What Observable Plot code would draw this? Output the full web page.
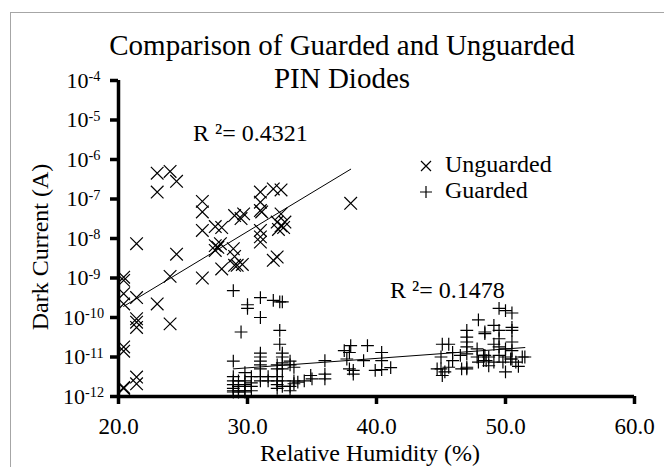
<!DOCTYPE html>
<html><head><meta charset="utf-8">
<script src="https://cdn.jsdelivr.net/npm/d3@7"></script>
<script src="https://cdn.jsdelivr.net/npm/@observablehq/plot@0.6"></script>
<style>
body{margin:0;background:#fff;font-family:"Liberation Serif","Times New Roman",serif;color:#000;}
#wrap{position:relative;width:664px;height:467px;overflow:hidden;background:#fff;}
.border{position:absolute;left:10px;top:12px;width:800px;height:600px;border:1.5px solid #a6a6a6;box-sizing:border-box;}
.t{position:absolute;white-space:nowrap;line-height:1;}
#chart{position:absolute;left:0;top:0;}
</style></head><body>
<div id="wrap">
<div class="border"></div>
<div id="chart"></div>
<div id="title" class="t" style="left:342px;top:29px;transform:translateX(-50%);font-size:29px;line-height:33px;text-align:center;"></div>
<div id="ylab" class="t" style="left:40px;top:247px;transform:translate(-50%,-50%) rotate(-90deg);font-size:24px;"></div>
<div id="xlab" class="t" style="left:370px;top:453px;transform:translate(-50%,-50%);font-size:24px;"></div>
<div id="r2a" class="t" style="left:193px;top:133px;transform:translateY(-50%);font-size:24px;"></div>
<div id="r2b" class="t" style="left:390px;top:290px;transform:translateY(-50%);font-size:24px;"></div>
<div id="legend" class="t" style="left:419px;top:151px;font-size:24px;line-height:26px;"></div>
</div>
<script>
const titleLines = ["Comparison of Guarded and Unguarded", "PIN Diodes"];
const xLabel = "Relative Humidity (%)";
const yLabel = "Dark Current (A)";
const seriesNames = ["Unguarded", "Guarded"];
const r2Labels = ["R \u00b2= 0.4321", "R \u00b2= 0.1478"];
const xTicks = [20, 30, 40, 50, 60];
const yTicks = [1e-12, 1e-11, 1e-10, 1e-9, 1e-8, 1e-7, 1e-6, 1e-5, 1e-4];

// Unguarded diodes: relative humidity (%) and dark current (A)
const ungHumidity = [23.0,24.0,24.5,23.0,26.5,26.5,26.5,26.5,29.0,21.4,24.5,27.5,28.0,27.5,27.7,27.9,27.5,28.9,29.0,28.0,29.0,20.4,24.0,
  31.0,32.0,32.6,31.0,31.0,31.1,29.7,29.5,32.6,32.3,32.6,32.8,32.4,32.9,31.0,31.0,31.0,32.3,32.0,29.2,29.6,38.0,
  20.4,20.4,20.4,21.4,23.0,21.4,21.4,21.4,24.0,20.4,20.4,21.4,21.4,20.4,20.4];
const ungCurrent = [4.5e-7,5.0e-7,2.8e-7,1.5e-7,8.7e-8,4.7e-8,1.6e-8,1.0e-9,3.8e-8,7.4e-9,4.0e-9,2.0e-8,1.9e-8,6.6e-9,6.0e-9,7.4e-9,5.0e-9,5.5e-9,3.5e-9,1.7e-9,2.1e-9,1.05e-9,1.1e-9,
  1.5e-7,1.8e-7,1.7e-7,8.3e-8,5.1e-8,4.7e-8,4.2e-8,3.2e-8,4.2e-8,2.6e-8,2.1e-8,1.9e-8,1.7e-8,2.6e-8,1.6e-8,1.1e-8,8.1e-9,3.4e-9,2.8e-9,2.1e-9,2.2e-9,7.8e-8,
  8.7e-10,4.0e-10,2.2e-10,3.2e-10,2.2e-10,9.3e-11,7.6e-11,5.6e-11,6.9e-11,1.8e-11,1.4e-11,3.1e-12,2.1e-12,1.7e-12,1.6e-12];

// Guarded diodes
const grdHumidity = [28.9,30.0,30.0,31.0,31.0,32.0,32.5,32.7,29.5,32.5,32.5,
  28.9,28.9,28.9,28.9,28.9,28.9,28.9,
  29.3,29.3,29.3,29.3,
  29.8,29.8,29.8,29.8,29.8,
  30.3,30.3,30.3,30.3,
  31.0,31.0,31.0,31.0,31.0,31.0,31.0,
  31.6,31.6,
  32.3,32.3,32.3,32.3,32.3,32.3,
  32.7,32.7,32.7,32.7,32.7,32.7,
  33.3,33.3,33.3,33.3,
  33.6,33.6,33.6,33.9,34.4,34.9,35.0,
  36.0,36.0,36.0,
  37.5,37.9,38.0,37.7,37.9,38.2,38.2,39.3,39.0,40.4,40.4,40.4,39.9,41.1,
  45.0,45.0,44.7,45.3,45.1,45.1,45.6,45.9,45.9,45.6,46.5,47.0,47.0,47.0,47.0,47.0,47.0,47.0,46.6,
  47.9,48.4,47.8,47.8,47.9,48.4,48.5,
  49.5,50.0,50.5,49.1,49.5,50.5,50.5,48.4,49.5,50.5,49.1,49.5,50.0,50.5,48.3,48.7,49.5,50.0,50.5,51.3,51.5,49.1,49.8,50.8,48.7,51.0,50.0,50.4,48.3];
const grdCurrent = [4.8e-10,2.1e-10,1.7e-10,3.2e-10,1.0e-10,2.7e-10,2.5e-10,2.5e-10,4.3e-11,4.7e-11,2.1e-11,
  7.9e-12,3.2e-12,2.5e-12,2.0e-12,1.6e-12,1.4e-12,1.3e-12,
  2.5e-12,1.8e-12,1.4e-12,1.3e-12,
  4.0e-12,2.5e-12,2.0e-12,1.4e-12,1.3e-12,
  3.2e-12,2.2e-12,1.8e-12,1.4e-12,
  1.26e-11,1.0e-11,7.9e-12,6.3e-12,5.0e-12,3.2e-12,2.5e-12,
  3.2e-12,2.5e-12,
  6.3e-12,5.0e-12,3.2e-12,2.5e-12,2.0e-12,1.6e-12,
  1.26e-11,1.0e-11,7.1e-12,5.0e-12,2.5e-12,1.8e-12,
  7.9e-12,6.3e-12,1.8e-12,1.4e-12,
  5.5e-12,2.5e-12,2.1e-12,2.3e-12,2.5e-12,3.4e-12,2.8e-12,
  8.1e-12,3.7e-12,2.8e-12,
  1.45e-11,1.3e-11,1.95e-11,8.9e-12,5.0e-12,4.6e-12,3.7e-12,1.95e-11,8.1e-12,1.3e-11,8.1e-12,4.8e-12,4.6e-12,5.4e-12,
  1.0e-11,5.0e-12,5.0e-12,4.2e-12,3.4e-12,2.1e-11,2.1e-11,1.3e-11,8.1e-12,5.5e-12,1.1e-11,4.7e-11,3.2e-11,2.4e-11,1.8e-11,1.2e-11,5.5e-12,5.0e-12,5.0e-12,
  8.7e-11,4.3e-11,1.6e-11,1.0e-11,7.4e-12,1.1e-11,8.1e-12,
  1.7e-10,1.5e-10,1.3e-10,6.3e-11,4.7e-11,5.6e-11,4.7e-11,3.9e-11,2.9e-11,2.4e-11,2.1e-11,1.8e-11,1.6e-11,1.45e-11,1.1e-11,1.0e-11,1.1e-11,1.0e-11,8.9e-12,1.0e-11,1.0e-11,7.4e-12,7.4e-12,7.4e-12,6.0e-12,5.8e-12,4.2e-12,8.9e-12,8.1e-12];

const ung = ungHumidity.map((x, i) => ({x, y: ungCurrent[i]}));
const grd = grdHumidity.map((x, i) => ({x, y: grdCurrent[i]}));

// Exponential trendline (least squares on log10 of current), spanning the data's x range
function expFit(data) {
  const xs = data.map(d => d.x), ls = data.map(d => Math.log10(d.y));
  const mx = d3.mean(xs), ml = d3.mean(ls);
  let sxy = 0, sxx = 0;
  xs.forEach((x, i) => { sxy += (x - mx) * (ls[i] - ml); sxx += (x - mx) ** 2; });
  const b = sxy / sxx, a = ml - b * mx;
  const [x0, x1] = d3.extent(xs);
  return [x0, x1].map(x => ({x, y: Math.pow(10, a + b * x)}));
}
const ungFit = expFit(ung), grdFit = expFit(grd);

const plot = Plot.plot({
  width: 664, height: 467,
  marginLeft: 118, marginRight: 30, marginTop: 80, marginBottom: 71,
  style: {fontFamily: "Liberation Serif", fontSize: "22px", color: "black", background: "transparent", overflow: "visible"},
  x: {domain: [xTicks[0], xTicks[xTicks.length - 1]], ticks: xTicks, tickSize: 8, tickPadding: 13, tickFormat: d => d.toFixed(1), label: null},
  y: {type: "log", domain: [yTicks[0], yTicks[yTicks.length - 1]], ticks: yTicks, tickSize: 8, tickPadding: 27, tickFormat: d => String(Math.round(Math.log10(d))), label: null},
  marks: [
    Plot.line(ungFit, {x: "x", y: "y", stroke: "black", strokeWidth: 1}),
    Plot.line(grdFit, {x: "x", y: "y", stroke: "black", strokeWidth: 1}),
    Plot.dot(ung, {x: "x", y: "y", symbol: "times", r: 5.8, stroke: "black", strokeWidth: 1.2}),
    Plot.dot(grd, {x: "x", y: "y", symbol: "plus", r: 4.2, stroke: "black", strokeWidth: 1.2}),
    Plot.ruleX([xTicks[0]], {stroke: "black", strokeWidth: 3.5}),
    Plot.ruleY([yTicks[0]], {stroke: "black", strokeWidth: 3.5})
  ]
});

// serif text, thick tick marks
plot.querySelectorAll("text").forEach(t => t.setAttribute("font-family", "Liberation Serif"));
plot.querySelectorAll('g[aria-label$="axis tick"]').forEach(g => g.setAttribute("stroke-width", "3.5"));
plot.querySelectorAll('g[aria-label="x-axis tick label"]').forEach(g => g.setAttribute("font-size", "23"));
plot.querySelectorAll('g[aria-label="x-axis tick label"] text').forEach(t => t.setAttribute("font-size", "23"));

// superscript exponents on y tick labels
plot.querySelectorAll('g[aria-label="y-axis tick label"]').forEach(g => {
  g.setAttribute("text-anchor", "middle");
  g.querySelectorAll("text").forEach(t => {
    t.setAttribute("text-anchor", "middle");
    const e = t.textContent;
    t.textContent = "10";
    const ts = document.createElementNS("http://www.w3.org/2000/svg", "tspan");
    ts.setAttribute("dy", "-0.45em");
    ts.setAttribute("font-size", "0.65em");
    ts.textContent = e;
    t.appendChild(ts);
  });
});
document.getElementById("chart").appendChild(plot);

document.getElementById("title").innerHTML = titleLines.join("<br>");
document.getElementById("ylab").textContent = yLabel;
document.getElementById("xlab").textContent = xLabel;
document.getElementById("r2a").textContent = r2Labels[0];
document.getElementById("r2b").textContent = r2Labels[1];
const symTimes = '<svg width="14" height="14" style="vertical-align:-1px;margin-right:12px"><path d="M2,2L12,12M12,2L2,12" stroke="black" stroke-width="1.2"/></svg>';
const symPlus = '<svg width="14" height="14" style="vertical-align:-1px;margin-right:12px"><path d="M7,1V13M1,7H13" stroke="black" stroke-width="1.2"/></svg>';
document.getElementById("legend").innerHTML = symTimes + seriesNames[0] + "<br>" + symPlus + seriesNames[1];
</script>
</body></html>
